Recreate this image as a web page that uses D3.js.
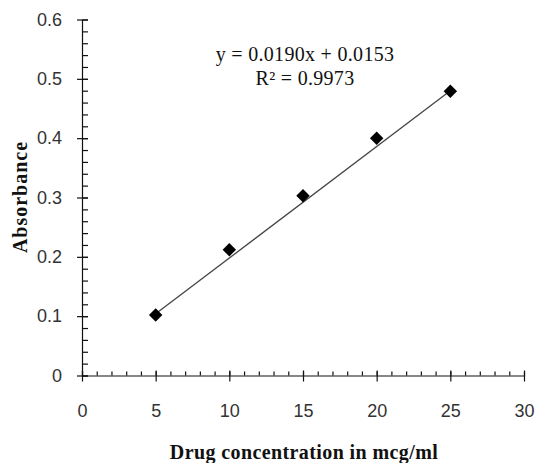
<!DOCTYPE html>
<html>
<head>
<meta charset="utf-8">
<script src="https://cdn.jsdelivr.net/npm/d3@7"></script>
<style>
  html, body { margin: 0; padding: 0; background: #fff; }
  svg { display: block; }
</style>
</head>
<body>
<svg id="chart" width="538" height="463"></svg>
<script>
// ---- data ----
const concentration = [5, 10, 15, 20, 25];
const absorbance = [0.102, 0.212, 0.303, 0.400, 0.479];
const trendX = [5, 25];
const trendY = [0.104, 0.480];
const xTicks = [0, 5, 10, 15, 20, 25, 30];
const xTickLabels = ["0", "5", "10", "15", "20", "25", "30"];
const yTicks = [0, 0.1, 0.2, 0.3, 0.4, 0.5, 0.6];
const yTickLabels = ["0", "0.1", "0.2", "0.3", "0.4", "0.5", "0.6"];
const xMinor = d3.range(0, 31, 1);
const yMinor = d3.range(0, 31, 1).map(d => d * 0.02);
const equationLines = ["y = 0.0190x + 0.0153", "R\u00B2 = 0.9973"];
const xTitle = "Drug concentration in mcg/ml";
const yTitle = "Absorbance";

const svg = d3.select("#chart");
const x = d3.scaleLinear().domain([0, 30]).range([82, 524]);
const y = d3.scaleLinear().domain([0, 0.6]).range([375.5, 19.5]);

const x0 = x(0), y0 = y(0);

// Y axis: minor ticks (inside)
svg.append("g").attr("transform", `translate(${x0},0)`)
  .call(d3.axisRight(y).tickValues(yMinor).tickSize(6).tickFormat(""))
  .call(g => g.select(".domain").remove());
// Y axis: major ticks crossing, with labels on left
const yAx = svg.append("g").attr("transform", `translate(${x0},0)`)
  .call(d3.axisLeft(y).tickValues(yTicks).tickSizeInner(5).tickSizeOuter(0).tickPadding(15)
    .tickFormat((d, i) => yTickLabels[i]));
yAx.selectAll(".tick line").attr("x2", -5).attr("x1", 6);
yAx.selectAll("text").attr("font-family", "Liberation Sans, Arial, sans-serif")
  .attr("font-size", 18).attr("fill", "#333");

// X axis: minor ticks (upward)
svg.append("g").attr("transform", `translate(0,${y0})`)
  .call(d3.axisTop(x).tickValues(xMinor).tickSize(4).tickFormat(""))
  .call(g => g.select(".domain").remove());
// X axis: major ticks crossing, labels below
const xAx = svg.append("g").attr("transform", `translate(0,${y0})`)
  .call(d3.axisBottom(x).tickValues(xTicks).tickSizeInner(6).tickSizeOuter(0).tickPadding(23)
    .tickFormat((d, i) => xTickLabels[i]));
xAx.selectAll(".tick line").attr("y1", -5).attr("y2", 6);
xAx.selectAll("text").attr("font-family", "Liberation Sans, Arial, sans-serif")
  .attr("font-size", 18).attr("fill", "#333");

svg.selectAll(".domain, .tick line").attr("stroke", "#111").attr("stroke-width", 1.2);

// Trendline
svg.append("path")
  .datum(trendX.map((d, i) => [d, trendY[i]]))
  .attr("d", d3.line().x(d => x(d[0])).y(d => y(d[1])))
  .attr("fill", "none").attr("stroke", "#444").attr("stroke-width", 1.3);

// Markers
const sym = d3.symbol().type(d3.symbolSquare).size(90);
svg.append("g").selectAll("path")
  .data(concentration.map((d, i) => [d, absorbance[i]]))
  .join("path")
  .attr("d", sym)
  .attr("transform", d => `translate(${x(d[0])},${y(d[1])}) rotate(45)`)
  .attr("fill", "#000");

// Equation
svg.append("g").selectAll("text")
  .data(equationLines)
  .join("text")
  .attr("x", 305)
  .attr("y", (d, i) => 61 + i * 24)
  .attr("text-anchor", "middle")
  .attr("font-family", "Liberation Serif, Times New Roman, serif")
  .attr("font-size", 20)
  .attr("letter-spacing", 0.3)
  .attr("fill", "#111")
  .text(d => d);

// Axis titles
svg.append("text")
  .attr("x", 304).attr("y", 459)
  .attr("text-anchor", "middle")
  .attr("font-family", "Liberation Serif, Times New Roman, serif")
  .attr("font-weight", "bold").attr("font-size", 20)
  .attr("letter-spacing", 0.4)
  .attr("fill", "#111")
  .text(xTitle);

svg.append("text")
  .attr("transform", "translate(27,197) rotate(-90)")
  .attr("text-anchor", "middle")
  .attr("font-family", "Liberation Serif, Times New Roman, serif")
  .attr("font-weight", "bold").attr("font-size", 20)
  .attr("letter-spacing", 1)
  .attr("fill", "#111")
  .text(yTitle);
</script>
</body>
</html>
